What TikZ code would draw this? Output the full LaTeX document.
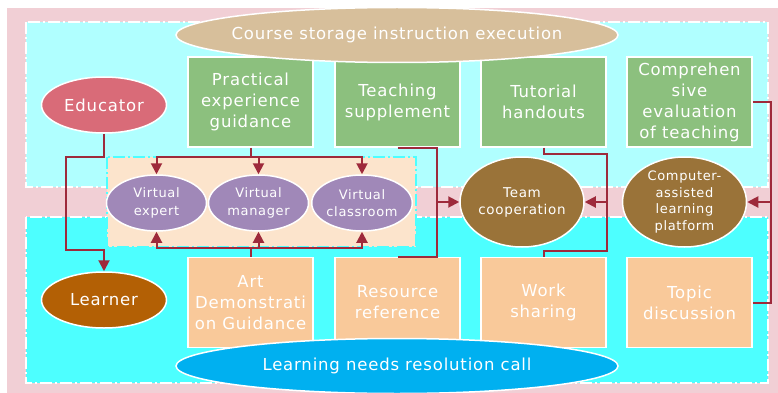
\documentclass[tikz,border=0pt]{standalone}
\usepackage{fontspec}
\setmainfont[LetterSpace=5]{DejaVu Sans}
\usetikzlibrary{shapes.geometric,arrows.meta}

\definecolor{bgpink}{HTML}{F1CFD5}
\definecolor{upcyan}{HTML}{B0FFFF}
\definecolor{lowcyan}{HTML}{4DFFFF}
\definecolor{panel}{HTML}{FCE4CC}
\definecolor{leaf}{HTML}{8CC07E}
\definecolor{apricot}{HTML}{F9C99A}
\definecolor{tan}{HTML}{D7BF9B}
\definecolor{sky}{HTML}{00B0F0}
\definecolor{rose}{HTML}{D96B78}
\definecolor{rust}{HTML}{B36005}
\definecolor{lilac}{HTML}{A088B8}
\definecolor{umber}{HTML}{9A7339}
\definecolor{wire}{HTML}{9E2A3B}

\tikzset{
  zone/.style={draw=white, line width=1.5pt, dash pattern=on 12pt off 3pt on 2pt off 3pt},
  card/.style={rectangle, draw=white, line width=1.5pt, minimum width=125pt, minimum height=90pt,
    text=white, align=center, font=\fontsize{16.5}{21}\selectfont, inner sep=0pt},
  greencard/.style={card, fill=leaf},
  peachcard/.style={card, fill=apricot},
  oval/.style={ellipse, draw=white, line width=1.5pt, text=white, align=center, inner sep=0pt},
  % fixed-size ellipse whose caption sits in a centred label
  shell/.style 2 args={ellipse, draw=white, line width=1.5pt, inner sep=0pt,
    label={[text=white, align=center, font=#1]center:#2}},
  bigoval/.style={minimum width=442pt, minimum height=55pt},
  actor/.style={oval, minimum width=125pt, minimum height=56pt, font=\fontsize{16.5}{20}\selectfont},
  virt/.style={oval, fill=lilac, minimum width=100pt, minimum height=56pt, font=\fontsize{13}{17.5}\selectfont},
  hub/.style={fill=umber, minimum width=124pt, minimum height=90pt},
  link/.style={draw=wire, line width=2pt},
  tip/.style={link, -{Triangle[length=11pt, width=11pt]}}
}

\begin{document}
\begin{tikzpicture}[x=1pt, y=-1pt]
  \useasboundingbox (0,0) rectangle (778,393);

  % background bands
  \fill[bgpink] (7,8) rectangle (778,393);
  \fill[upcyan] (26,22) rectangle (768,187);
  \draw[zone] (26,22) rectangle (768,187);
  \fill[lowcyan] (26,217) rectangle (768,383);
  \draw[zone] (26,217) rectangle (768,383);
  \fill[panel] (107,157) rectangle (416,247);
  \draw[draw=lowcyan, line width=1.5pt, dash pattern=on 12pt off 3pt on 2pt off 3pt] (107,157) rectangle (416,247);

  % upper row of cards
  \node[greencard] (practical) at (250.5,102) {Practical\\experience\\guidance};
  \node[greencard] (teaching)  at (397.5,102) {Teaching\\supplement};
  \node[greencard] (tutorial)  at (543.5,102) {Tutorial\\handouts};
  \node[greencard] (compre)    at (689.5,102) {Comprehen\\sive\\evaluation\\of teaching};

  % lower row of cards
  \node[peachcard] (art)      at (250.5,302.5) {Art\\Demonstrati\\on Guidance};
  \node[peachcard] (resource) at (397.5,302.5) {Resource\\reference};
  \node[peachcard] (work)     at (543.5,302.5) {Work\\sharing};
  \node[peachcard] (topic)    at (689.5,302.5) {Topic\\discussion};

  % headline ellipses
  \node[shell={\fontsize{16.5}{20}\selectfont}{Course storage instruction execution},
        bigoval, fill=tan] (course) at (397,35) {};
  \node[shell={\fontsize{16.5}{20}\selectfont}{Learning needs resolution call},
        bigoval, fill=sky] (needs) at (397,366) {};

  % actors
  \node[actor, fill=rose] (educator) at (104,105) {Educator};
  \node[actor, fill=rust] (learner)  at (104,300) {Learner};

  % virtual roles
  \node[virt] (vexpert)  at (156.5,203) {Virtual\\expert};
  \node[virt] (vmanager) at (258.5,203) {Virtual\\manager};
  \node[virt] (vclass)   at (362,203)   {Virtual\\classroom};

  % hubs
  \node[shell={\fontsize{13.5}{17}\selectfont}{Team\\cooperation}, hub] (team) at (522,202) {};
  \node[shell={\fontsize{13}{16.7}\selectfont}{Computer-\\assisted\\learning\\platform}, hub] (cal) at (684.5,202) {};

  % junction points
  \coordinate (e1) at (66,157);
  \coordinate (e2) at (66,250);
  \coordinate (pj) at (250.5,157);
  \coordinate (aj) at (250.5,248);
  \coordinate (tj) at (437,202);
  \coordinate (ua) at (543.5,154);
  \coordinate (ub) at (607,202);
  \coordinate (uc) at (543.5,251);
  \coordinate (cj) at (771,202);

  % educator to learner
  \draw[tip] (educator.south) |- (e1) -- (e2) -| (learner.north);

  % practical guidance to virtual roles
  \draw[link] (practical.south) -- (pj);
  \draw[tip] (pj) -| (vexpert.north);
  \draw[tip] (pj) -| (vmanager.north);
  \draw[tip] (pj) -| (vclass.north);

  % art demonstration to virtual roles
  \draw[link] (art.north) -- (aj);
  \draw[tip] (aj) -| (vexpert.south);
  \draw[tip] (aj) -| (vmanager.south);
  \draw[tip] (aj) -| (vclass.south);

  % teaching supplement and resource reference into team cooperation
  \draw[link] (teaching.south) -| (tj) |- (resource.north);
  \draw[tip] (tj) -- (team.west);

  % tutorial handouts and work sharing into team cooperation
  \draw[link] (tutorial.south) -- (ua) -| (ub) |- (uc) -- (work.north);
  \draw[tip] (ub) -- (team.east);

  % evaluation and topic discussion into the learning platform
  \draw[link] (compre.east) -| (cj) |- (topic.east);
  \draw[tip] (cj) -- (cal.east);
\end{tikzpicture}
\end{document}
